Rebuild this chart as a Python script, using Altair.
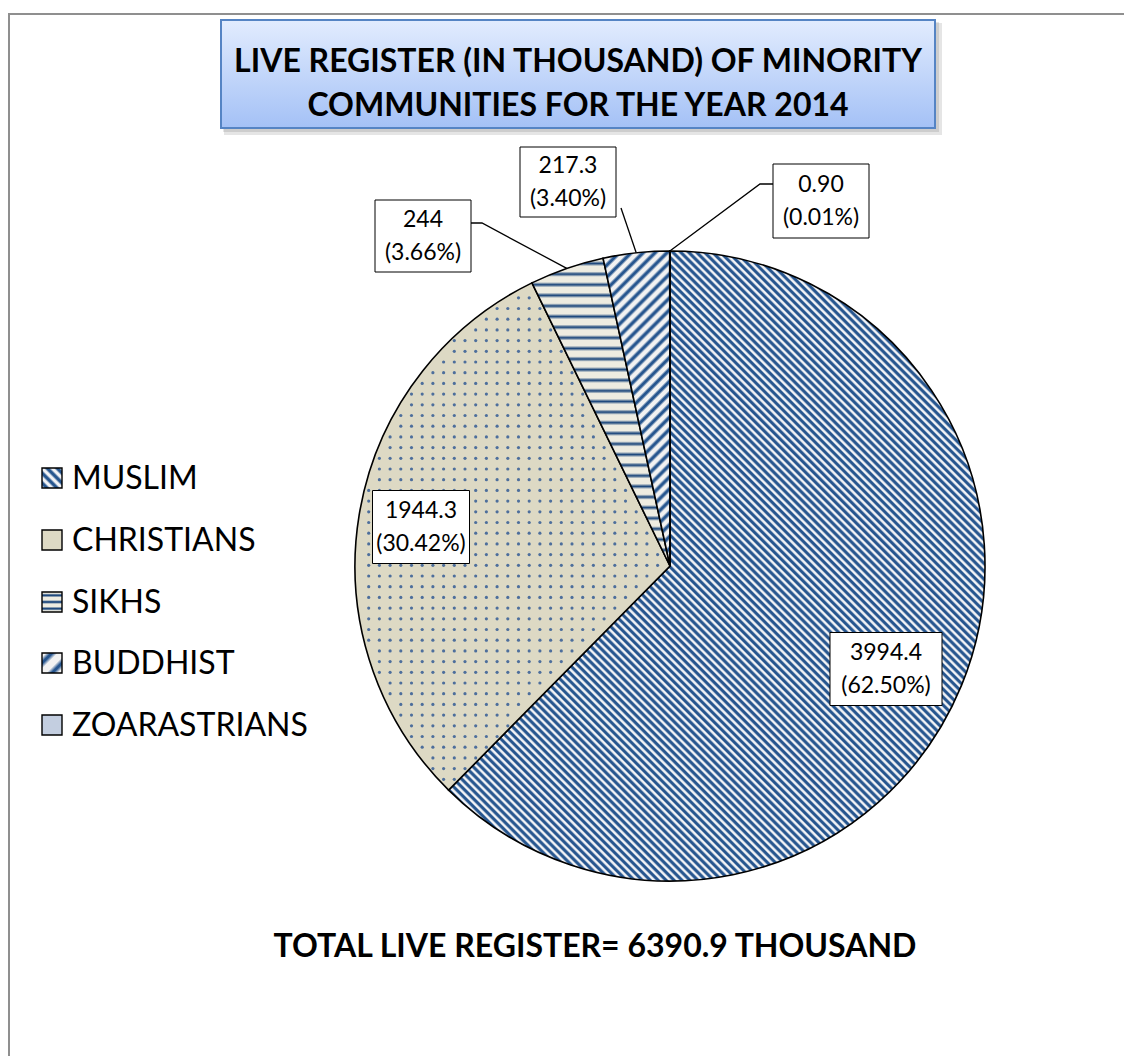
import math
import numpy as np
import pandas as pd
import altair as alt

# ---------------- data ----------------
categories = ["MUSLIM", "CHRISTIANS", "SIKHS", "BUDDHIST", "ZOARASTRIANS"]
values = [3994.4, 1944.3, 244, 217.3, 0.90]
value_text = ["3994.4", "1944.3", "244", "217.3", "0.90"]
percent_text = ["(62.50%)", "(30.42%)", "(3.66%)", "(3.40%)", "(0.01%)"]
title_lines = ["LIVE REGISTER (IN THOUSAND) OF MINORITY", "COMMUNITIES FOR THE YEAR 2014"]
footer_text = "TOTAL LIVE REGISTER= 6390.9 THOUSAND"

# ---------------- layout / style (page pixels) ----------------
M = 8                      # page margin
W, H = 1116, 1048          # drawing area
CX, CY, R = 670, 566, 315  # pie centre and radius
FONT = "Lato"
BLUE = "#27568f"
DARK = "#1f497d"
DOT = "#44689a"

# label boxes: centre x, centre y, width, height
LABEL_BOX = {
    "MUSLIM": (886, 669, 112, 73),
    "CHRISTIANS": (421, 527, 97, 73),
    "SIKHS": (423, 236, 96, 72),
    "BUDDHIST": (568, 182, 96, 70),
    "ZOARASTRIANS": (821, 201, 96, 74),
}
# leader line start points (box side) for outside labels
LEADER_START = {
    "SIKHS": [(471, 223), (482, 223)],
    "BUDDHIST": [(621, 208)],
    "ZOARASTRIANS": [(773, 184), (760, 184)],
}
LEGEND_X, LEGEND_SW, LEGEND_TX = 42, 20, 72
LEGEND_Y = [478, 540, 602, 663, 725]


def px(v):
    return v - M


def stripe_gradient(w, h, normal, period, line, bg, line_frac, soft=0.12):
    a, b = normal
    ln = math.hypot(a, b)
    a, b = a / ln, b / ln
    p, q = a * w, b * h
    k = (abs(p) + abs(q)) / (p * p + q * q)
    u0 = 0 if p >= 0 else 1
    v0 = 0 if q >= 0 else 1
    n = max(1, int(round((abs(p) + abs(q)) / period)))
    half = line_frac / 2
    e = min(soft, 0.5 - half)
    stops = [{"offset": 0, "color": bg}]
    for i in range(n):
        for f, c in [(0.5 - half - e, bg), (0.5 - half + e, line),
                     (0.5 + half - e, line), (0.5 + half + e, bg)]:
            stops.append({"offset": round((i + f) / n, 6), "color": c})
    stops.append({"offset": 1, "color": bg})
    return {"gradient": "linear", "x1": u0, "y1": v0,
            "x2": u0 + k * p, "y2": v0 + k * q, "stops": stops}


total = float(sum(values))
cum = np.cumsum(values)
starts = cum - np.array(values)


def wedge_bbox(f0, f1):
    th = np.linspace(f0, f1, 600) * 2 * np.pi
    xs = np.concatenate([[0.0], R * np.sin(th)])
    ys = np.concatenate([[0.0], -R * np.cos(th)])
    return xs.max() - xs.min(), ys.max() - ys.min()


bb = {c: wedge_bbox(starts[i] / total, cum[i] / total) for i, c in enumerate(categories)}

FILLS = {
    "MUSLIM": stripe_gradient(*bb["MUSLIM"], (1, -1), 5.6, BLUE, "#f1f2f5", 0.55),
    "CHRISTIANS": "#ddd9c4",
    "SIKHS": stripe_gradient(*bb["SIKHS"], (0, 1), 10.5, DARK, "#eeece1", 0.26),
    "BUDDHIST": stripe_gradient(*bb["BUDDHIST"], (1, 1), 8.5, BLUE, "#f2f2f2", 0.42),
    "ZOARASTRIANS": "#a9bad4",
}
LEG_FILLS = {
    "MUSLIM": stripe_gradient(LEGEND_SW, LEGEND_SW, (1, -1), 6.5, BLUE, "#f1f2f5", 0.5),
    "CHRISTIANS": "#ddd9c4",
    "SIKHS": stripe_gradient(LEGEND_SW, LEGEND_SW, (0, 1), 6.5, DARK, "#eeece1", 0.35),
    "BUDDHIST": stripe_gradient(LEGEND_SW, LEGEND_SW, (1, 1), 14, BLUE, "#f2f2f2", 0.35),
    "ZOARASTRIANS": "#c3cee0",
}

XP = lambda f: alt.X(f, type="quantitative", scale=None, axis=None)
YP = lambda f: alt.Y(f, type="quantitative", scale=None, axis=None)

layers = []

# outer frame
frame_df = pd.DataFrame({"x": [px(9)], "x2": [px(1200)], "y": [px(14)], "y2": [px(1200)]})
layers.append(alt.Chart(frame_df).mark_rect(fillOpacity=0, stroke="#8f8f8f", strokeWidth=2).encode(
    x=XP("x"), x2="x2", y=YP("y"), y2="y2"))

# title box with shadow
tb = (221, 20, 935, 128)
shadow_df = pd.DataFrame({"x": [px(tb[0] + 3), px(tb[0] + 2)], "x2": [px(tb[2] + 7), px(tb[2] + 4)],
                          "y": [px(tb[1] + 3), px(tb[1] + 2)], "y2": [px(tb[3] + 7), px(tb[3] + 4)]})
layers.append(alt.Chart(shadow_df).mark_rect(fill="#000000", opacity=0.1).encode(
    x=XP("x"), x2="x2", y=YP("y"), y2="y2"))
title_box_df = pd.DataFrame({"x": [px(tb[0])], "x2": [px(tb[2])], "y": [px(tb[1])], "y2": [px(tb[3])]})
title_grad = {"gradient": "linear", "x1": 0, "y1": 0, "x2": 0, "y2": 1,
              "stops": [{"offset": 0, "color": "#e2ecfe"}, {"offset": 1, "color": "#a4c1f6"}]}
layers.append(alt.Chart(title_box_df).mark_rect(fill=title_grad, stroke="#5584c4", strokeWidth=2).encode(
    x=XP("x"), x2="x2", y=YP("y"), y2="y2"))
title_df = pd.DataFrame({"t": title_lines, "x": [px(578)] * 2, "y": [px(62), px(106)]})
layers.append(alt.Chart(title_df).mark_text(font=FONT, fontWeight="bold", fontSize=32, color="black",
                                            align="center", baseline="middle").encode(
    x=XP("x"), y=YP("y"), text="t:N"))

# pie wedges
pie_df = pd.DataFrame({"category": categories, "value": values, "order": list(range(len(categories)))})
pie_base = (alt.Chart(pie_df)
            .transform_window(cum="sum(value)", sort=[alt.SortField("order")], frame=[None, 0])
            .transform_calculate(start="datum.cum - datum.value"))
for c in categories:
    layers.append(pie_base.transform_filter(alt.datum.category == c)
                  .mark_arc(outerRadius=R, fill=FILLS[c], stroke="black", strokeWidth=1.6)
                  .encode(theta=alt.Theta("start:Q", stack=None,
                                          scale=alt.Scale(domain=[0, total], range=[0, 2 * math.pi])),
                          theta2="cum:Q",
                          x=alt.value(px(CX)), y=alt.value(px(CY))))

# dotted texture of the CHRISTIANS wedge
ci = categories.index("CHRISTIANS")
a0 = starts[ci] / total * 2 * math.pi
a1 = cum[ci] / total * 2 * math.pi
S = 10.7
nx = int(2 * R / S) + 2
dots = (alt.Chart(alt.sequence(0, nx * nx, as_="i"))
        .transform_calculate(gx=f"{px(CX - R) + 3} + (datum.i % {nx}) * {S}",
                             gy=f"{px(CY - R) + 4} + floor(datum.i / {nx}) * {S}")
        .transform_calculate(dx=f"datum.gx - {px(CX)}", dy=f"datum.gy - {px(CY)}")
        .transform_calculate(ang="(atan2(datum.dx, -datum.dy) + 2 * PI) % (2 * PI)",
                             rr="sqrt(datum.dx * datum.dx + datum.dy * datum.dy)",
                             d0=f"abs(datum.dx * {math.cos(a0)} + datum.dy * {math.sin(a0)})",
                             d1=f"abs(datum.dx * {math.cos(a1)} + datum.dy * {math.sin(a1)})")
        .transform_filter(f"datum.rr < {R - 3} && datum.ang > {a0} && datum.ang < {a1} "
                          f"&& datum.d0 > 3 && datum.d1 > 3")
        .mark_circle(size=10, color=DOT, opacity=0.95)
        .encode(x=XP("gx"), y=YP("gy")))
layers.append(dots)

# leader lines
lead_rows = []
for i, c in enumerate(categories):
    if c not in LEADER_START:
        continue
    f = (cum[i] - values[i] / 2) / total * 2 * math.pi
    pts = LEADER_START[c] + [(CX + R * math.sin(f), CY - R * math.cos(f))]
    for j, (x, y) in enumerate(pts):
        lead_rows.append({"cat": c, "k": j, "x": px(x), "y": px(y)})
lead_df = pd.DataFrame(lead_rows)
layers.append(alt.Chart(lead_df).mark_line(color="black", strokeWidth=1.3).encode(
    x=XP("x"), y=YP("y"), detail="cat:N", order="k:Q"))

# data label boxes and text
box_rows, txt_rows = [], []
for i, c in enumerate(categories):
    cx, cy, w, h = LABEL_BOX[c]
    box_rows.append({"x": px(cx - w / 2), "x2": px(cx + w / 2), "y": px(cy - h / 2), "y2": px(cy + h / 2)})
    txt_rows.append({"t": value_text[i], "x": px(cx), "y": px(cy - 16.5)})
    txt_rows.append({"t": percent_text[i], "x": px(cx), "y": px(cy + 16.5)})
layers.append(alt.Chart(pd.DataFrame(box_rows)).mark_rect(fill="white", stroke="black", strokeWidth=1).encode(
    x=XP("x"), x2="x2", y=YP("y"), y2="y2"))
layers.append(alt.Chart(pd.DataFrame(txt_rows)).mark_text(font=FONT, fontSize=23, color="black",
                                                          align="center", baseline="middle").encode(
    x=XP("x"), y=YP("y"), text="t:N"))

# legend
for i, c in enumerate(categories):
    y = LEGEND_Y[i]
    sw = pd.DataFrame({"x": [px(LEGEND_X)], "x2": [px(LEGEND_X + LEGEND_SW)],
                       "y": [px(y - LEGEND_SW / 2)], "y2": [px(y + LEGEND_SW / 2)]})
    layers.append(alt.Chart(sw).mark_rect(fill=LEG_FILLS[c], stroke="black", strokeWidth=1.4).encode(
        x=XP("x"), x2="x2", y=YP("y"), y2="y2"))
leg_df = pd.DataFrame({"t": categories, "x": [px(LEGEND_TX)] * len(categories), "y": [px(v + 1) for v in LEGEND_Y]})
layers.append(alt.Chart(leg_df).mark_text(font=FONT, fontSize=32, color="black",
                                          align="left", baseline="middle").encode(
    x=XP("x"), y=YP("y"), text="t:N"))

# footer
foot_df = pd.DataFrame({"t": [footer_text], "x": [px(595)], "y": [px(947)]})
layers.append(alt.Chart(foot_df).mark_text(font=FONT, fontWeight="bold", fontSize=32, color="black",
                                           align="center", baseline="middle").encode(
    x=XP("x"), y=YP("y"), text="t:N"))

chart = (alt.layer(*layers)
         .properties(width=W, height=H, padding=0, autosize=alt.AutoSizeParams(type="none"))
         .configure_view(stroke=None))

chart.save("out.html", embed_options={"renderer": "svg", "actions": False})
